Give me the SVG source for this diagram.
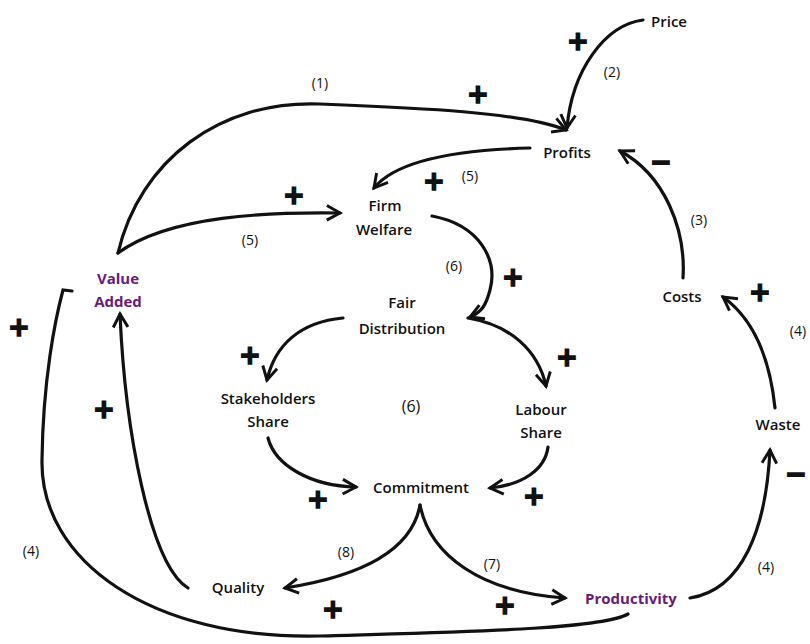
<svg xmlns="http://www.w3.org/2000/svg" width="810" height="644" viewBox="0 0 810 644">
<defs>
<marker id="arr" viewBox="0 0 12 12" refX="10" refY="6" markerWidth="5.5" markerHeight="5.5" orient="auto" markerUnits="strokeWidth">
<path d="M1,1 L10,6 L1,11" fill="none" stroke="#111" stroke-width="2" stroke-linejoin="miter"/>
</marker>
<style>
.lbl{font-family:"Open Sans","Noto Sans","DejaVu Sans",sans-serif;font-size:15px;fill:#111;text-anchor:middle;dominant-baseline:central;font-weight:600}
.pur{fill:#6a1b7a;font-weight:700}
.num{font-family:"Open Sans","Noto Sans","DejaVu Sans",sans-serif;font-size:14px;fill:#111;text-anchor:middle;dominant-baseline:central}
.pol{font-family:"DejaVu Sans",sans-serif;font-weight:bold;font-size:26px;fill:#111;stroke:#111;stroke-width:1.6;text-anchor:middle;dominant-baseline:central}
.c{fill:none;stroke:#111;stroke-width:3.2;stroke-linecap:round}
</style>
</defs>
<g id="connectors">
<path class="c" d="M118,253 C140,160 220,100 320,104 C420,108 520,112 566,130" marker-end="url(#arr)"/>
<path class="c" d="M643,20 C605,25 572,70 567,128" marker-end="url(#arr)"/>
<path class="c" d="M530,148 C450,150 395,162 374,188" marker-end="url(#arr)"/>
<path class="c" d="M118,253 C170,215 270,212 340,213" marker-end="url(#arr)"/>
<path class="c" d="M432,216 C480,225 498,260 490,290 C486,305 482,312 470,317" marker-end="url(#arr)"/>
<path class="c" d="M343,318 C300,322 275,345 267,380" marker-end="url(#arr)"/>
<path class="c" d="M468,318 C510,325 538,350 546,386" marker-end="url(#arr)"/>
<path class="c" d="M268,438 C275,465 310,486 356,487" marker-end="url(#arr)"/>
<path class="c" d="M548,447 C545,470 522,485 490,488" marker-end="url(#arr)"/>
<path class="c" d="M420,505 C412,550 362,576 285,588" marker-end="url(#arr)"/>
<path class="c" d="M420,505 C430,555 480,592 565,598" marker-end="url(#arr)"/>
<path class="c" d="M188,588 C150,565 125,430 120,314" marker-end="url(#arr)"/>
<path class="c" d="M628,614 C600,630 450,632 320,636 C150,640 40,560 42,460 C43,380 55,320 63,290 L72,291"/>
<path class="c" d="M690,598 C742,590 766,530 770,450" marker-end="url(#arr)"/>
<path class="c" d="M775,408 C770,360 755,320 723,297" marker-end="url(#arr)"/>
<path class="c" d="M683,278 C686,230 665,175 620,151" marker-end="url(#arr)"/>
</g>
<g id="price"><text class="lbl" x="669" y="21">Price</text></g>
<g id="profits"><text class="lbl" x="567" y="152">Profits</text></g>
<g id="firm-welfare"><text class="lbl" x="385" y="205">Firm</text><text class="lbl" x="384" y="229">Welfare</text></g>
<g id="value-added"><text class="lbl pur" x="118" y="278">Value</text><text class="lbl pur" x="118" y="301">Added</text></g>
<g id="costs"><text class="lbl" x="682" y="296">Costs</text></g>
<g id="fair-distribution"><text class="lbl" x="402" y="302">Fair</text><text class="lbl" x="402" y="328">Distribution</text></g>
<g id="stakeholders-share"><text class="lbl" x="268" y="398">Stakeholders</text><text class="lbl" x="268" y="421">Share</text></g>
<g id="labour-share"><text class="lbl" x="541" y="409">Labour</text><text class="lbl" x="541" y="432">Share</text></g>
<g id="waste"><text class="lbl" x="778" y="424">Waste</text></g>
<g id="commitment"><text class="lbl" x="421" y="487">Commitment</text></g>
<g id="quality"><text class="lbl" x="238" y="587">Quality</text></g>
<g id="productivity"><text class="lbl pur" x="631" y="598">Productivity</text></g>
<g id="labels">
<text class="num" x="612" y="71">(2)</text>
<text class="num" x="320" y="82">(1)</text>
<text class="num" x="470" y="175">(5)</text>
<text class="num" x="250" y="239">(5)</text>
<text class="num" x="699" y="219">(3)</text>
<text class="num" x="454" y="265">(6)</text>
<text class="num" x="798" y="330">(4)</text>
<text class="num" x="411" y="406" style="font-size:16px">(6)</text>
<text class="num" x="31" y="550">(4)</text>
<text class="num" x="346" y="551">(8)</text>
<text class="num" x="492" y="563">(7)</text>
<text class="num" x="766" y="566">(4)</text>
<text class="pol" x="578" y="41">+</text>
<text class="pol" x="478" y="94">+</text>
<text class="pol" x="661" y="162">−</text>
<text class="pol" x="434" y="181">+</text>
<text class="pol" x="294" y="195">+</text>
<text class="pol" x="513" y="277">+</text>
<text class="pol" x="760" y="292">+</text>
<text class="pol" x="19" y="327">+</text>
<text class="pol" x="250" y="355">+</text>
<text class="pol" x="567" y="357">+</text>
<text class="pol" x="104" y="409">+</text>
<text class="pol" x="796" y="474">−</text>
<text class="pol" x="318" y="499">+</text>
<text class="pol" x="534" y="496">+</text>
<text class="pol" x="333" y="609">+</text>
<text class="pol" x="505" y="605">+</text>
</g>
</svg>
